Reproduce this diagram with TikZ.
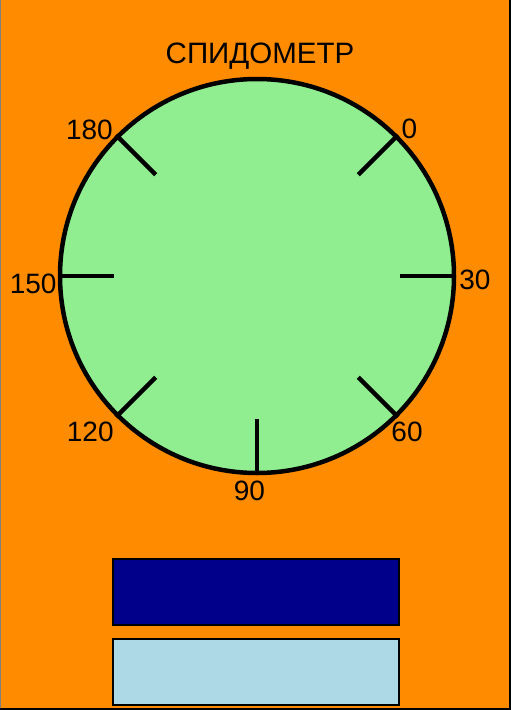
\documentclass[tikz,border=0pt]{standalone}
\usepackage{fontspec}
\setmainfont{Liberation Sans}
\usetikzlibrary{positioning}
\definecolor{panelorange}{HTML}{FF8C00}
\definecolor{dialgreen}{HTML}{90EE90}
\definecolor{bardark}{HTML}{00008B}
\definecolor{barlight}{HTML}{ADD8E6}

\begin{document}
\begin{tikzpicture}[x=1pt, y=-1pt,
    every node/.style={font=\fontsize{28}{30}\selectfont, inner sep=0pt},
    dial/.style={draw, circle, line width=4.5pt, fill=dialgreen, minimum size=394pt},
    tickmark/.style={line width=4.5pt},
    bar/.style={draw, line width=2pt, minimum width=286pt, minimum height=66pt}]
    % panel with its edges
    \fill[black] (0,0) rectangle (511,710);
    \fill[gray] (0,0) rectangle (509,708);
    \fill[panelorange] (1,0) rectangle (509,708);
    \useasboundingbox (0,0) rectangle (511,710);

    \node[font=\fontsize{29.5}{31}\selectfont] (title) at (260,56) {СПИДОМЕТР};
    \node[dial] (dial) at (257,276) {};

    \foreach \a in {45,0,-45,-90,-135,180,135}
        \draw[tickmark] (dial.\a) -- ++(\a+180:56pt);

    \foreach \a/\r/\t in {44/212/0, -1/218/30, -46/216/60, -92/215/90,
                          223/228/120, 182/224/150, 139/222/180}
        \path (dial.center) ++(\a:\r pt) node (lbl\t) {\t};

    \node[bar, fill=bardark] (upper) at (256,592) {};
    \node[bar, fill=barlight, below=12pt of upper] (lower) {};
\end{tikzpicture}
\end{document}
